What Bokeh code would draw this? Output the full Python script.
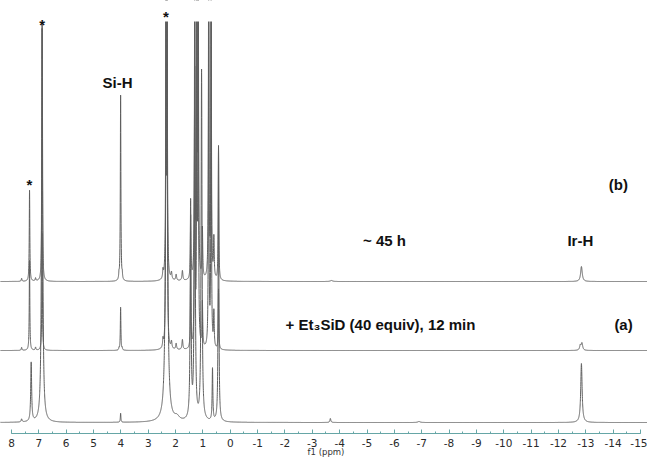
import numpy as np
from bokeh.plotting import figure
from bokeh.models import Range1d, SingleIntervalTicker, Label, BoxAnnotation, CustomJSTickFormatter
from bokeh.embed import file_html
from bokeh.resources import INLINE

# ---- data ----
# stacked 1H NMR traces: baseline offsets (intensity units)
offsets = {"bottom": 11, "a": 83, "b": 152}

# (b) ~45 h : peak positions (ppm), heights, half-widths (ppm)
b_ppm    = [7.63, 7.34, 7.12, 6.88, 4.07, 4.01, 3.95, 2.46, 2.35, 2.31, 2.15, 1.98, 1.75, 1.45, 1.30, 1.22, 1.17, 1.02, 0.79, 0.70, 0.60, 0.43, -3.70, -12.84]
b_height = [3,    91,   3,    253,  5,    186,  5,    8,    330,  330,  7,    6,    10,   79,   330,  330,  330,  50,   330,  330,  40,   130,  1,     15]
b_hw     = [0.015, 0.012, 0.015, 0.012, 0.01, 0.012, 0.01, 0.015, 0.012, 0.012, 0.02, 0.02, 0.02, 0.012, 0.012, 0.012, 0.012, 0.015, 0.012, 0.012, 0.015, 0.012, 0.05, 0.035]

# (a) + Et3SiD (40 equiv), 12 min
a_ppm    = [7.63, 7.34, 7.12, 6.88, 4.07, 4.01, 3.95, 2.46, 2.35, 2.31, 2.15, 1.98, 1.75, 1.45, 1.30, 1.22, 1.17, 1.02, 0.79, 0.70, 0.60, 0.43, -12.80, -12.86]
a_height = [3,    90,   3,    117,  2,    43,   2,    8,    330,  330,  7,    6,    10,   77,   330,  330,  330,  45,   330,  330,  35,   60,   5,      7]
a_hw     = [0.015, 0.012, 0.015, 0.012, 0.01, 0.012, 0.01, 0.015, 0.012, 0.012, 0.02, 0.02, 0.02, 0.012, 0.012, 0.012, 0.012, 0.015, 0.012, 0.012, 0.015, 0.012, 0.03, 0.03]

# bottom trace (starting complex)
c_ppm    = [7.63, 7.28, 6.88, 4.01, 2.33, 1.95, 1.45, 1.30, 1.05, 0.65, 0.43, -3.66, -6.90, -12.84]
c_height = [3,    59,   400,  9,    450,  4,    200,  350,  350,  52,   276,  4,     1,     59]
c_hw     = [0.02, 0.02, 0.025, 0.012, 0.035, 0.1, 0.02, 0.02, 0.02, 0.015, 0.015, 0.02, 0.05, 0.03]

tick_interval = 1  # ppm
axis_ppm = (-15, 8)

# ---- build traces from the peak lists (Lorentzian line shapes) ----
ppm = np.arange(-15.4, 8.45, 0.002)

def trace(pos, hgt, hw, base):
    y = np.full_like(ppm, float(base))
    for c, h, w in zip(pos, hgt, hw):
        y += h * w**2 / ((ppm - c) ** 2 + w**2)
    return y

y_c = trace(c_ppm, c_height, c_hw, offsets["bottom"])
y_a = trace(a_ppm, a_height, a_hw, offsets["a"])
y_b = trace(b_ppm, b_height, b_hw, offsets["b"])

p = figure(width=647, height=458, output_backend="svg", toolbar_location=None,
           x_range=Range1d(8.402, -15.256), y_range=Range1d(-25, 433),
           y_axis_location=None, min_border_left=0, min_border_right=0,
           min_border_top=0, min_border_bottom=0)
p.outline_line_color = None
p.grid.visible = False
p.background_fill_color = "white"

line_col = "#5e5e5e"
for yy in (y_c, y_a, y_b):
    p.line(ppm, yy, line_color=line_col, line_width=1)

# spectra are cut off at the top of the plotting area
p.add_layout(BoxAnnotation(bottom=412, top=600, fill_color="white", fill_alpha=1.0,
                           line_color=None))

ax = p.xaxis[0]
ax.fixed_location = 0
ax.ticker = SingleIntervalTicker(interval=tick_interval, num_minor_ticks=2)
ax.formatter = CustomJSTickFormatter(code="return tick.toFixed(0);")
ax.bounds = axis_ppm
axis_col = "#66a6a6"
ax.axis_line_color = axis_col
ax.major_tick_line_color = axis_col
ax.minor_tick_line_color = axis_col
ax.major_tick_in = 4
ax.major_tick_out = 0
ax.minor_tick_in = 2
ax.minor_tick_out = 0
ax.major_label_standoff = 5
ax.major_label_text_font = "DejaVu Sans"
ax.major_label_text_font_size = "10.5px"
ax.major_label_text_color = "#2a2a2a"
ax.axis_label = "f1 (ppm)"
ax.axis_label_text_font = "DejaVu Sans"
ax.axis_label_text_font_size = "8.5px"
ax.axis_label_text_font_style = "normal"
ax.axis_label_text_color = "#333333"
ax.axis_label_standoff = -3

def lab(x, y, t, size="15px", align="center"):
    p.add_layout(Label(x=x, y=y, text=t, text_font="Liberation Sans",
                       text_font_size=size, text_font_style="bold",
                       text_color="#111111", text_align=align,
                       text_baseline="middle"))

lab(7.34, 249, "*", "15px")
lab(6.88, 409, "*", "15px")
lab(2.35, 417, "*", "15px")
lab(4.12, 351, "Si-H")
lab(-14.19, 249, "(b)")
lab(-5.64, 193, "~ 45 h")
lab(-12.80, 193, "Ir-H")
lab(-2.02, 109, "+ Et\u2083SiD (40 equiv), 12 min", align="left")
lab(-14.38, 109, "(a)")

open("out.html", "w").write(file_html(p, INLINE))
